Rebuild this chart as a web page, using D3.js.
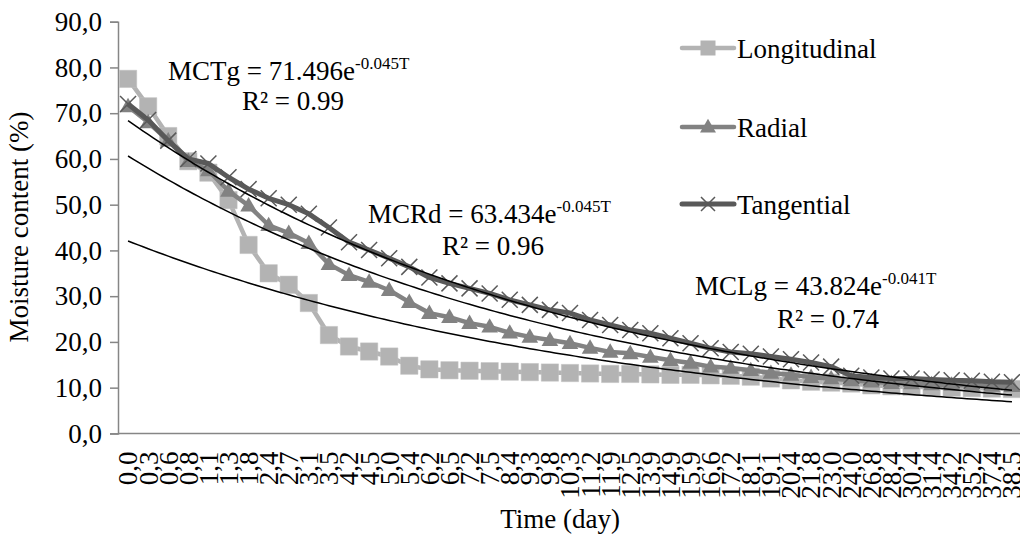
<!DOCTYPE html>
<html><head><meta charset="utf-8">
<script src="https://cdn.jsdelivr.net/npm/d3@7"></script>
<style>body{margin:0;background:#fff}svg{display:block}svg text{font-family:"Liberation Serif","Tinos","DejaVu Serif",serif !important}</style>
</head><body>
<svg id="c" width="1020" height="538"></svg>
<script>
const days = ["0,0","0,3","0,6","0,8","1,1","1,3","1,8","2,4","2,7","3,1","3,5","4,2","4,5","5,0","5,4","6,2","6,5","7,2","7,5","8,4","9,3","9,8","10,3","11,2","11,9","12,5","13,9","14,9","15,9","16,6","17,2","18,1","19,1","20,4","21,8","23,0","24,0","26,8","28,4","30,4","31,4","34,2","35,2","37,4","38,5"];
const longitudinal = [77.5,71.5,65.0,59.5,57.0,51.0,41.2,35.0,32.5,28.5,21.5,19.0,17.9,16.8,14.8,14.0,13.8,13.7,13.6,13.5,13.4,13.3,13.2,13.1,13.0,13.0,12.9,12.8,12.8,12.7,12.6,12.4,12.0,11.6,11.3,11.1,10.9,10.5,10.3,10.2,10.1,10.0,9.9,9.8,9.7];
const radial = [71.5,68.0,64.0,59.5,57.5,53.0,49.8,45.5,43.8,41.6,37.0,34.6,33.1,31.3,28.7,26.3,25.4,24.1,23.3,22.0,21.1,20.4,19.7,18.7,17.8,17.5,16.7,16.0,15.4,14.6,14.3,13.8,13.2,12.8,12.3,12.0,11.6,11.3,11.0,10.9,10.7,10.6,10.5,10.4,10.3];
const tangential = [72.0,68.5,64.0,60.0,59.0,56.0,53.4,51.4,50.0,48.0,45.0,41.8,40.1,38.3,36.4,34.1,32.8,31.7,30.6,29.2,28.1,27.0,26.3,24.8,23.7,22.6,21.9,20.8,19.7,18.6,17.8,17.4,16.8,16.2,15.5,14.6,12.6,12.2,12.0,12.0,11.8,11.6,11.5,11.3,11.2];
const yTicks = [0,10,20,30,40,50,60,70,80,90];
const seriesNames = ["Longitudinal","Radial","Tangential"];
// fitted trend lines y = a * exp(b * T), T = point number (1..45)
const trendA = [43.824, 63.434, 71.496];
const trendB = [-0.041, -0.045, -0.045];
const eqNames = ["MCLg","MCRd","MCTg"];
const eqA = ["43.824","63.434","71.496"];
const eqB = ["-0.041T","-0.045T","-0.045T"];
const eqR2 = ["0.74","0.96","0.99"];

const svg = d3.select("#c");
const L = 118, R = 1022, T0 = 21.7, B = 433.4;
const FS = 27;
const x = d3.scalePoint().domain(days).range([L, R]).padding(0.5);
const y = d3.scaleLinear().domain([0, 90]).range([B, T0]);
const tx = d3.scaleLinear().domain([1, days.length]).range([x(days[0]), x(days[days.length-1])]);

const colors = ["#b3b3b3","#828282","#595959"];
const widths = [4.5, 4.5, 5];
const data = [longitudinal, radial, tangential];

const axisColor = "#868686";
const yAx = svg.append("g").attr("transform", `translate(${L},0)`)
  .call(d3.axisLeft(y).tickValues(yTicks).tickSize(8).tickPadding(8).tickFormat(d => d3.format(".1f")(d).replace(".", ",")));
yAx.select(".domain").attr("stroke", axisColor).attr("stroke-width", 1.5);
yAx.selectAll(".tick line").attr("stroke", axisColor).attr("stroke-width", 1.5);
yAx.selectAll("text").attr("font-size", FS).attr("fill", "#000");

const xAx = svg.append("g").attr("transform", `translate(0,${B})`)
  .call(d3.axisBottom(x).tickSize(0).tickPadding(0));
xAx.select(".domain").attr("stroke", axisColor).attr("stroke-width", 1.5).attr("d", `M${L},0H${R}`);
xAx.selectAll("text").attr("font-size", FS).attr("fill", "#000")
  .attr("transform", "rotate(-90)").attr("text-anchor", "end").attr("x", -18).attr("y", 0).attr("dy", "0.33em");

const line = d3.line().x((d, i) => x(days[i])).y(d => y(d));
const sq = d3.symbol().type(d3.symbolSquare).size(300);
const tri = d3.symbol().type(d3.symbolTriangle).size(120);
function cross(s) { return `M${-s},${-s}L${s},${s}M${-s},${s}L${s},${-s}`; }

data.forEach((vals, k) => {
  svg.append("path").datum(vals).attr("d", line).attr("fill", "none")
    .attr("stroke", colors[k]).attr("stroke-width", widths[k]).attr("stroke-linejoin", "round");
  const g = svg.append("g");
  vals.forEach((v, i) => {
    const px = x(days[i]), py = y(v);
    if (k === 0) g.append("path").attr("d", sq()).attr("transform", `translate(${px},${py})`).attr("fill", colors[0]).attr("stroke", "#c0c0c0").attr("stroke-width", 0.5);
    if (k === 1) g.append("path").attr("d", tri()).attr("transform", `translate(${px},${py+1})`).attr("fill", colors[1]);
    if (k === 2) g.append("path").attr("d", cross(8)).attr("transform", `translate(${px},${py})`).attr("stroke", colors[2]).attr("stroke-width", 1.5).attr("fill", "none");
  });
});

trendA.forEach((a, k) => {
  const pts = d3.range(1, days.length + 0.001, 0.25).map(t => [tx(t), y(a * Math.exp(trendB[k] * t))]);
  svg.append("path").attr("d", d3.line()(pts)).attr("fill", "none").attr("stroke", "#000").attr("stroke-width", 1.5);
});

const eqPos = [[695, 295, 828, 328], [368, 223, 493, 255], [168, 80, 293, 110]];
eqNames.forEach((n, k) => {
  const [ex, ey, rx, ry] = eqPos[k];
  const t = svg.append("text").attr("x", ex).attr("y", ey).attr("font-size", FS);
  t.append("tspan").text(`${n} = ${eqA[k]}e`);
  t.append("tspan").attr("font-size", 17).attr("dy", -11).text(eqB[k]);
  svg.append("text").attr("x", rx).attr("y", ry).attr("font-size", FS).attr("text-anchor", "middle").text(`R² = ${eqR2[k]}`);
});

const legY = [48, 127, 204];
seriesNames.forEach((n, k) => {
  const g = svg.append("g").attr("transform", `translate(682,${legY[k]})`);
  g.append("line").attr("x1", 0).attr("x2", 52).attr("stroke", colors[k]).attr("stroke-width", widths[k]).attr("stroke-linecap", "round");
  if (k === 0) g.append("path").attr("d", d3.symbol().type(d3.symbolSquare).size(225)()).attr("transform", "translate(26,0)").attr("fill", colors[0]);
  if (k === 1) g.append("path").attr("d", d3.symbol().type(d3.symbolTriangle).size(110)()).attr("transform", "translate(26,1)").attr("fill", colors[1]);
  if (k === 2) g.append("path").attr("d", cross(7)).attr("transform", "translate(26,0)").attr("stroke", colors[2]).attr("stroke-width", 1.5);
  g.append("text").attr("x", 55).attr("y", 10).attr("font-size", FS).text(n);
});

svg.append("text").attr("transform", "translate(28,227) rotate(-90)").attr("text-anchor", "middle").attr("font-size", FS).text("Moisture content (%)");
svg.append("text").attr("x", 560).attr("y", 528).attr("text-anchor", "middle").attr("font-size", FS).text("Time (day)");
</script>
</body></html>
